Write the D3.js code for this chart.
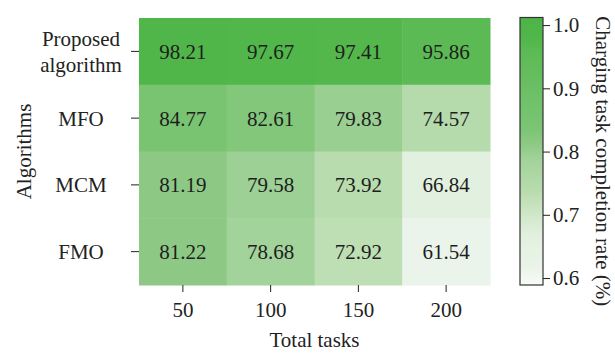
<!DOCTYPE html>
<html>
<head>
<meta charset="utf-8">
<script src="https://cdn.jsdelivr.net/npm/d3@7"></script>
<style>
  html, body { margin: 0; padding: 0; background: #fff; }
  svg { display: block; }
  svg text { font-family: "Liberation Serif", "Times New Roman", serif; }
</style>
</head>
<body>
<svg id="chart" width="615" height="353"></svg>
<script>
// Completion rate (%) per algorithm (rows) and task count (columns)
const taskCounts = ["50", "100", "150", "200"];
const algorithms = ["Proposed algorithm", "MFO", "MCM", "FMO"];
const rateProposed = [98.21, 97.67, 97.41, 95.86];
const rateMFO = [84.77, 82.61, 79.83, 74.57];
const rateMCM = [81.19, 79.58, 73.92, 66.84];
const rateFMO = [81.22, 78.68, 72.92, 61.54];
const colorbarTicks = [0.6, 0.7, 0.8, 0.9, 1.0];

// Green colormap, value (fraction) -> colour
const cmapStops = [0.589, 0.6154, 0.6684, 0.737, 0.79, 0.812, 0.837, 0.9586, 0.975, 1.012];
const cmapColors = ["#f8fbf7", "#ebf4ea", "#e2f0df", "#b9dcae", "#a1d299", "#8dc985",
                    "#7bc574", "#5cba55", "#52b74b", "#4cb446"];

const rows = [rateProposed, rateMFO, rateMCM, rateFMO];
const cells = [];
rows.forEach((vals, i) => vals.forEach((v, j) =>
  cells.push({ alg: algorithms[i], tasks: taskCounts[j], value: v })));

const FONT = "Liberation Serif, Times New Roman, serif";
const svg = d3.select("#chart");
const plot = { left: 139, right: 490, top: 18, bottom: 285 };

const x = d3.scaleBand().domain(taskCounts).range([plot.left, plot.right]);
const y = d3.scaleBand().domain(algorithms).range([plot.top, plot.bottom]);
const color = d3.scaleLinear().domain(cmapStops).range(cmapColors).clamp(true);

// Heatmap cells
svg.append("g").selectAll("rect").data(cells).join("rect")
  .attr("x", d => x(d.tasks))
  .attr("y", d => y(d.alg))
  .attr("width", x.bandwidth() + 0.5)
  .attr("height", y.bandwidth() + 0.5)
  .attr("fill", d => color(d.value / 100));

// Cell annotations
svg.append("g").selectAll("text").data(cells).join("text")
  .attr("x", d => x(d.tasks) + x.bandwidth() / 2)
  .attr("y", d => y(d.alg) + y.bandwidth() / 2 + 7.5)
  .attr("text-anchor", "middle")
  .attr("font-family", FONT)
  .attr("font-size", 21)
  .attr("fill", "#1e1e1e")
  .text(d => d.value.toFixed(2));

// Bottom axis
const xAxis = svg.append("g")
  .attr("transform", `translate(0,${plot.bottom})`)
  .call(d3.axisBottom(x).tickSize(7).tickSizeOuter(0).tickPadding(10))
  .attr("font-family", FONT);
xAxis.select(".domain").remove();
xAxis.selectAll("line").attr("stroke", "#222");
xAxis.selectAll("text").attr("font-size", 21).attr("font-family", FONT)
  .attr("fill", "#222");

// Left axis (labels centred, wrapped on spaces)
const yAxis = svg.append("g")
  .attr("transform", `translate(${plot.left},0)`)
  .call(d3.axisLeft(y).tickSize(8).tickSizeOuter(0));
yAxis.select(".domain").remove();
yAxis.selectAll("line").attr("stroke", "#222");
yAxis.selectAll("text").remove();
const lineGap = 25.5;
algorithms.forEach(name => {
  const words = name.split(" ");
  const cy = y(name) + y.bandwidth() / 2;
  const t = svg.append("text")
    .attr("text-anchor", "middle")
    .attr("font-family", FONT)
    .attr("font-size", 21)
    .attr("fill", "#222");
  words.forEach((w, k) => {
    t.append("tspan")
      .attr("x", 81)
      .attr("y", cy + 7.5 + (k - (words.length - 1) / 2) * lineGap)
      .text(w);
  });
});

// Axis titles
svg.append("text")
  .attr("x", (plot.left + plot.right) / 2)
  .attr("y", 347)
  .attr("text-anchor", "middle")
  .attr("font-family", FONT)
  .attr("font-size", 21)
  .attr("fill", "#222")
  .text("Total tasks");

svg.append("text")
  .attr("transform", `translate(31,${(plot.top + plot.bottom) / 2}) rotate(-90)`)
  .attr("text-anchor", "middle")
  .attr("font-family", FONT)
  .attr("font-size", 21)
  .attr("fill", "#222")
  .text("Algorithms");

// Colour bar
const cb = { x: 520, width: 23, top: 17.5, bottom: 285 };
const cbScale = d3.scaleLinear().domain([cmapStops[0], cmapStops[cmapStops.length - 1]])
  .range([cb.bottom, cb.top]);

const defs = svg.append("defs");
const grad = defs.append("linearGradient")
  .attr("id", "cbGrad").attr("x1", 0).attr("y1", 1).attr("x2", 0).attr("y2", 0);
const dom = cbScale.domain();
d3.range(0, 1.0001, 0.02).forEach(t => {
  const v = dom[0] + t * (dom[1] - dom[0]);
  grad.append("stop").attr("offset", t).attr("stop-color", color(v));
});

svg.append("rect")
  .attr("x", cb.x).attr("y", cb.top)
  .attr("width", cb.width).attr("height", cb.bottom - cb.top)
  .attr("fill", "url(#cbGrad)")
  .attr("stroke", "#333").attr("stroke-width", 1.2);

const cbAxis = svg.append("g")
  .attr("transform", `translate(${cb.x + cb.width},0)`)
  .call(d3.axisRight(cbScale).tickValues(colorbarTicks).tickFormat(d3.format(".1f"))
    .tickSize(7).tickSizeOuter(0).tickPadding(3))
  .attr("font-family", FONT);
cbAxis.select(".domain").remove();
cbAxis.selectAll("line").attr("stroke", "#222");
cbAxis.selectAll("text").attr("font-size", 21).attr("font-family", FONT)
  .attr("fill", "#222");

svg.append("text")
  .attr("transform", `translate(596,${(cb.top + cb.bottom) / 2 + 10}) rotate(90)`)
  .attr("text-anchor", "middle")
  .attr("font-family", FONT)
  .attr("font-size", 21)
  .attr("fill", "#222")
  .text("Charging task completion rate (%)");
</script>
</body>
</html>
